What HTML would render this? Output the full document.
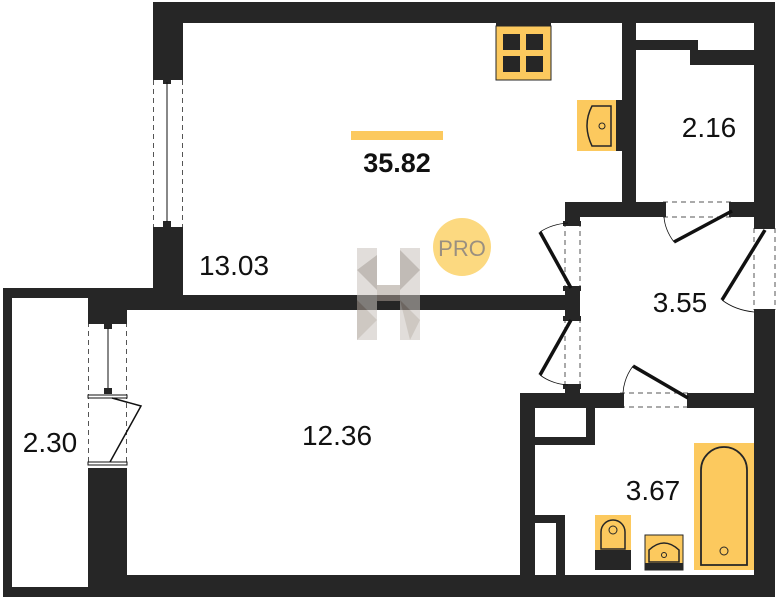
<!DOCTYPE html>
<html><head><meta charset="utf-8"><style>
html,body{margin:0;padding:0;background:#fff;}
svg{display:block;}
text{font-family:"Liberation Sans","DejaVu Sans",sans-serif;}
</style></head><body>
<svg width="778" height="600" viewBox="0 0 778 600" xmlns="http://www.w3.org/2000/svg">
<g fill="#262626">
  <rect x="153" y="2" width="622" height="21"/>
  <rect x="153" y="2" width="30" height="76"/>
  <rect x="153" y="229" width="30" height="70"/>
  <rect x="754" y="2" width="21" height="224"/>
  <rect x="754" y="312" width="21" height="285"/>
  <rect x="622" y="2" width="14" height="215"/>
  <rect x="636" y="40" width="62" height="10"/>
  <rect x="690" y="50" width="64" height="15"/>
  <rect x="565" y="202" width="98" height="15"/>
  <rect x="732" y="202" width="22" height="15"/>
  <rect x="565" y="202" width="15" height="20"/>
  <rect x="565" y="288" width="15" height="30"/>
  <rect x="3" y="288" width="180" height="10"/>
  <rect x="88" y="295" width="480" height="15"/>
  <rect x="3" y="288" width="9" height="309"/>
  <rect x="3" y="587" width="100" height="10"/>
  <rect x="88" y="295" width="39" height="25"/>
  <rect x="88" y="468" width="39" height="129"/>
  <rect x="88" y="575" width="687" height="22"/>
  <rect x="520" y="393" width="100" height="15"/>
  <rect x="690" y="393" width="64" height="15"/>
  <rect x="565" y="388" width="15" height="8"/>
  <rect x="520" y="393" width="15" height="182"/>
  <rect x="586" y="408" width="9" height="37"/>
  <rect x="535" y="437" width="60" height="8"/>
  <rect x="535" y="515" width="30" height="8"/>
  <rect x="556" y="515" width="9" height="60"/>
</g>
<g stroke="#555" stroke-width="1" stroke-dasharray="5,4" fill="none">
  <line x1="153.5" y1="80" x2="153.5" y2="228"/><line x1="182.5" y1="80" x2="182.5" y2="228"/>
  <line x1="88.5" y1="322" x2="88.5" y2="466"/><line x1="126.5" y1="322" x2="126.5" y2="466"/>
  <line x1="565" y1="222" x2="565" y2="288"/><line x1="580" y1="222" x2="580" y2="288"/>
  <line x1="565" y1="318" x2="565" y2="388"/><line x1="580" y1="318" x2="580" y2="388"/>
  <line x1="663" y1="202" x2="732" y2="202"/><line x1="663" y1="217" x2="732" y2="217"/>
  <line x1="620" y1="393" x2="690" y2="393"/><line x1="620" y1="407" x2="690" y2="407"/>
  <line x1="754" y1="228" x2="754" y2="310"/><line x1="775" y1="228" x2="775" y2="310"/>
</g>
<g fill="#262626">
  <rect x="153" y="76" width="30" height="4"/><rect x="163" y="78" width="8" height="6"/>
  <rect x="153" y="227" width="30" height="4"/><rect x="163" y="221" width="8" height="6"/>
  <rect x="88" y="320" width="39" height="4"/><rect x="104" y="323" width="8" height="6"/>
  <rect x="104" y="388" width="8" height="6"/>
  <rect x="563" y="221" width="18" height="5"/><rect x="563" y="286" width="18" height="5"/>
  <rect x="563" y="316" width="18" height="5"/><rect x="563" y="384" width="18" height="5"/>
  <rect x="660" y="202" width="6" height="15"/><rect x="729" y="202" width="6" height="15"/>
  <rect x="618" y="393" width="6" height="15"/><rect x="687" y="393" width="6" height="15"/>
  <rect x="754" y="224" width="21" height="5"/><rect x="754" y="309" width="21" height="5"/>
</g>
<g stroke="#111" fill="none">
  <line x1="167" y1="82" x2="167" y2="222" stroke-width="1"/>
  <line x1="108" y1="328" x2="108" y2="388" stroke-width="1"/>
  <rect x="88" y="395" width="39" height="3" fill="#fff" stroke-width="1"/>
  <rect x="88" y="462" width="39" height="3" fill="#fff" stroke-width="1"/>
  <path d="M112 398 L141 406 L110 462" stroke-width="1.5"/>
  <line x1="571" y1="288" x2="540" y2="232" stroke-width="3.5"/>
  <path d="M540 232 Q552 224 568 223" stroke-width="0.8"/>
  <line x1="571" y1="320" x2="540" y2="375" stroke-width="3.5"/>
  <path d="M540 375 Q552 384 568 385" stroke-width="0.8"/>
  <line x1="732" y1="211" x2="674" y2="242" stroke-width="3.5"/>
  <path d="M674 242 Q665 230 664 217" stroke-width="0.8"/>
  <line x1="688" y1="398" x2="633" y2="366" stroke-width="3.5"/>
  <path d="M633 366 Q624 378 623 393" stroke-width="0.8"/>
  <line x1="765" y1="230" x2="722" y2="300" stroke-width="3.5"/>
  <path d="M722 300 Q735 310 754 312" stroke-width="0.8"/>
</g>
<rect x="496" y="23" width="55" height="4" fill="#262626"/>
<rect x="496" y="26" width="55" height="54" fill="#fcc95e" stroke="#262626" stroke-width="1"/>
<g fill="#262626"><rect x="503" y="34" width="17" height="16"/><rect x="526" y="34" width="17" height="16"/><rect x="503" y="56" width="17" height="16"/><rect x="526" y="56" width="17" height="16"/></g>
<rect x="577" y="100" width="40" height="51" fill="#fcc95e"/>
<rect x="616" y="100" width="6" height="51" fill="#262626"/>
<path d="M611 106 L592 106 Q582 125 592 146 L611 146 Z" fill="none" stroke="#262626" stroke-width="1.5"/>
<circle cx="602" cy="126" r="3" fill="none" stroke="#262626"/>
<rect x="595" y="515" width="36" height="55" fill="#fcc95e"/>
<rect x="595" y="550" width="36" height="20" fill="#262626"/>
<path d="M601 549 L601 532 A12 12 0 0 1 625 532 L625 549 Z" fill="none" stroke="#262626" stroke-width="1.5"/>
<circle cx="613" cy="530" r="4" fill="none" stroke="#262626"/>
<rect x="645" y="535" width="38" height="35" fill="#fcc95e" stroke="#262626" stroke-width="1"/>
<rect x="645" y="563" width="38" height="7" fill="#262626"/>
<path d="M649 562 L649 550 Q664 536 679 550 L679 562 Z" fill="none" stroke="#262626" stroke-width="1.5"/>
<circle cx="664" cy="555" r="2.5" fill="none" stroke="#262626"/>
<rect x="694" y="443" width="60" height="127" fill="#fcc95e"/>
<path d="M701 565 L701 470 A23 23 0 0 1 747 470 L747 565 Z" fill="none" stroke="#262626" stroke-width="1.8"/>
<circle cx="724" cy="551" r="4" fill="none" stroke="#262626"/>
<g opacity="0.55">
  <rect x="357" y="248" width="20" height="92" fill="#c9c3bd"/>
  <rect x="400" y="248" width="20" height="92" fill="#c9c3bd"/>
  <rect x="377" y="285" width="23" height="16" fill="#a79c92"/>
  <polygon points="357,270 377,255 377,290" fill="#8f857b"/>
  <polygon points="400,250 420,270 400,290" fill="#8f857b"/>
  <polygon points="357,300 377,320 357,340" fill="#a79c92"/>
  <polygon points="400,300 420,320 410,340" fill="#a79c92"/>
</g>
<circle cx="462" cy="247" r="29" fill="#fcd980"/>
<text x="462" y="256" font-size="22" fill="#9a8f80" text-anchor="middle">PRO</text>
<rect x="351" y="131" width="92" height="9" fill="#fcc95e"/>
<text x="397" y="172" font-size="27" font-weight="bold" fill="#111" text-anchor="middle">35.82</text>
<g font-size="28" fill="#111" text-anchor="middle">
  <text x="234" y="275">13.03</text>
  <text x="709" y="137">2.16</text>
  <text x="680" y="312">3.55</text>
  <text x="337" y="445">12.36</text>
  <text x="50" y="452">2.30</text>
  <text x="653" y="500">3.67</text>
</g>
</svg>
</body></html>
